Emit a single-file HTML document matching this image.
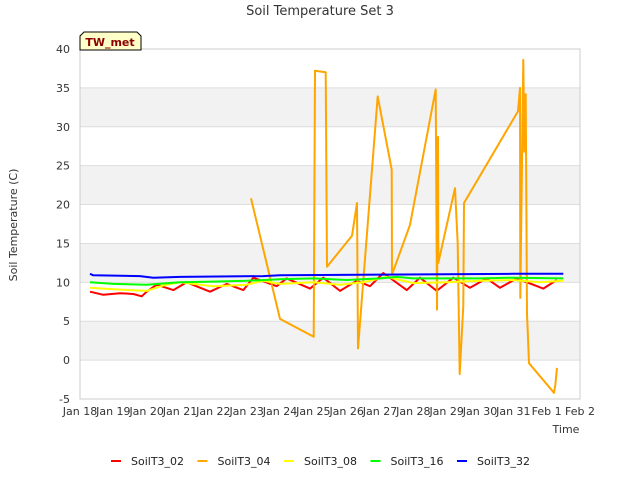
<!DOCTYPE html>
<html><head><meta charset="utf-8"><style>
body{margin:0;background:#fff;}
svg text{font-family:"DejaVu Sans","Liberation Sans",sans-serif;}
</style></head><body>
<svg id="chart" width="640" height="480" xmlns="http://www.w3.org/2000/svg">
<rect width="640" height="480" fill="#fff"/>
<text x="320" y="15" text-anchor="middle" font-size="13" fill="#333">Soil Temperature Set 3</text>
<g id="bands"></g>
<g id="grid"></g>
<g id="yticks"></g>
<g id="xticks"></g>
<rect x="80" y="49" width="500" height="350" fill="none" stroke="#ccc"/>
<g id="series"></g>
<text transform="translate(17,225) rotate(-90)" text-anchor="middle" font-size="11" fill="#333">Soil Temperature (C)</text>
<text x="566" y="433" text-anchor="middle" font-size="11" fill="#333">Time</text>
<g>
<path d="M84,32 L137,32 L141,36 L141,50 L80,50 L80,36 Z" fill="#ffffc8" stroke="#000"/>
<text x="110" y="46" text-anchor="middle" font-size="11" font-weight="bold" fill="#8b0000">TW_met</text>
</g>
<g id="legend"></g>
</svg>
<script>
const xLabels=["Jan 18","Jan 19","Jan 20","Jan 21","Jan 22","Jan 23","Jan 24","Jan 25","Jan 26","Jan 27","Jan 28","Jan 29","Jan 30","Jan 31","Feb 1","Feb 2"];
const yTicks=[-5,0,5,10,15,20,25,30,35,40];
const seriesNames=["SoilT3_02","SoilT3_04","SoilT3_08","SoilT3_16","SoilT3_32"];
const seriesColors=["#ff0000","#ffa500","#ffff00","#00ff00","#0000ff"];
const t02=[0.3,0.7,1.2,1.6,1.85,2.0,2.3,2.8,3.2,3.9,4.4,4.9,5.2,5.9,6.2,6.9,7.3,7.8,8.3,8.7,9.1,9.8,10.2,10.7,11.2,11.7,12.2,12.6,13.1,13.9,14.3];
const v02=[8.8,8.4,8.6,8.5,8.2,8.8,9.7,9.0,10.0,8.8,9.8,9.0,10.6,9.5,10.5,9.2,10.6,8.9,10.2,9.5,11.2,9.0,10.6,8.9,10.6,9.3,10.5,9.3,10.5,9.2,10.3];
const t04=[5.13,6.0,7.01,7.05,7.37,7.41,8.16,8.31,8.34,8.93,9.35,9.36,9.9,10.67,10.71,10.74,10.75,11.25,11.33,11.39,11.5,11.52,13.14,13.2,13.21,13.3,13.33,13.37,13.41,13.47,14.22,14.26,14.31];
const v04=[20.8,5.3,3.0,37.2,37.0,12.0,16.0,20.2,1.5,33.9,24.5,11.0,17.4,34.8,6.5,28.7,12.5,22.1,15.0,-1.8,7.0,20.2,32.0,35.0,8.0,38.6,26.8,34.2,6.0,-0.4,-4.2,-3.2,-1.0];
const t08=[0.3,1.0,2.0,2.5,3.0,4.0,5.0,5.5,6.0,7.0,7.8,8.5,9.2,10.0,11.0,12.0,13.0,13.8,14.5];
const v08=[9.3,9.1,8.9,9.6,10.0,9.5,9.7,10.2,9.8,10.0,9.7,10.0,10.7,9.9,10.0,10.2,10.3,10.0,10.2];
const t16=[0.3,1.0,2.0,3.0,4.0,5.0,6.0,7.0,8.0,9.0,9.5,10.0,11.0,12.0,13.0,14.5];
const v16=[10.0,9.8,9.7,10.0,10.1,10.2,10.4,10.5,10.3,10.5,10.7,10.5,10.5,10.5,10.6,10.5];
const t32=[0.3,0.4,1.8,2.2,3.0,5.5,6.0,9.0,13.0,14.5];
const v32=[11.1,10.9,10.8,10.6,10.7,10.8,10.9,11.0,11.1,11.1];
const seriesT=[t02,t04,t08,t16,t32], seriesV=[v02,v04,v08,v16,v32];
const NS="http://www.w3.org/2000/svg";
const L=80,R=580,T=49,B=399,ymin=-5,ymax=40;
const xs=d=>L+d*(R-L)/(xLabels.length-1);
const ys=v=>B-(v-ymin)*(B-T)/(ymax-ymin);
function mk(tag,attrs,parent){const e=document.createElementNS(NS,tag);for(const k in attrs)e.setAttribute(k,attrs[k]);document.getElementById(parent).appendChild(e);return e;}
for(let i=0;i<yTicks.length-1;i++){
  if(i%2===1){const r=mk('rect',{x:L,y:ys(yTicks[i+1]),width:R-L,height:ys(yTicks[i])-ys(yTicks[i+1]),fill:'#f2f2f2'},'bands');
  
  }
}
yTicks.forEach(v=>{
  const g=mk('line',{x1:L,x2:R,y1:ys(v),y2:ys(v),stroke:'#ddd'},'grid');
  
  
  const t=mk('text',{x:L-10,y:ys(v)+4,'text-anchor':'end','font-size':11,fill:'#333'},'yticks');
  t.textContent=v;
  
  
});
xLabels.forEach((s,i)=>{
  const t=mk('text',{x:xs(i),y:415,'text-anchor':'middle','font-size':11,fill:'#333'},'xticks');
  t.textContent=s;
  
  
});
seriesNames.forEach((n,k)=>{
  const pts=seriesT[k].map((d,i)=>xs(d).toFixed(1)+','+ys(seriesV[k][i]).toFixed(1)).join(' ');
  const p=mk('polyline',{points:pts,fill:'none',stroke:seriesColors[k],'stroke-width':2,'stroke-linejoin':'round'},'series');
  
  
  const lx=111+k*86.5;
  const ll=mk('line',{x1:lx,x2:lx+10,y1:461,y2:461,stroke:seriesColors[k],'stroke-width':2},'legend');
  
  
  const lt=mk('text',{x:lx+20,y:465,'font-size':11,fill:'#222'},'legend');
  lt.textContent=n;
  
  
});
</script>
</body></html>
